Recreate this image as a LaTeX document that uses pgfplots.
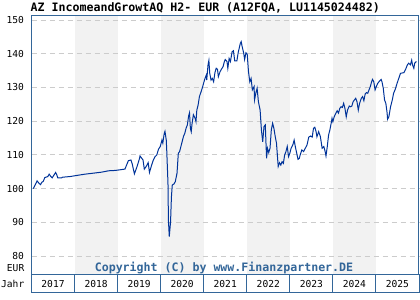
\documentclass[border=0pt]{standalone}
\usepackage{pgfplots}
\pgfplotsset{compat=1.18}
\usepackage{fontspec}
\setmainfont{DejaVu Sans Mono}
\definecolor{frame}{HTML}{336699}
\definecolor{series}{HTML}{003399}
\definecolor{band}{HTML}{F2F2F2}
\definecolor{gridc}{HTML}{CCCCCC}
\begin{document}
\begin{tikzpicture}
\path (0,0) rectangle (420bp,300bp);
\begin{axis}[
  set layers,
  at={(31.5bp,25bp)}, anchor=south west,
  width=387.5bp, height=259bp, scale only axis,
  xmin=2017, xmax=2026, ymin=74.4, ymax=151.2,
  axis line style={draw=frame, line width=1bp},
  ytick={80,90,...,150},
  ymajorgrids,
  grid style={gridc, line width=0.9bp, dash pattern=on 5bp off 4bp},
  xtick={2017.5,2018.5,2019.5,2020.5,2021.5,2022.5,2023.5,2024.5,2025.5},
  xticklabels={2017,2018,2019,2020,2021,2022,2023,2024,2025},
  major tick length=0,
  tick label style={font=\fontsize{9.6bp}{11bp}\selectfont},
  /pgf/number format/assume math mode=true,
  xticklabel style={anchor=center, yshift=-9bp},
  yticklabel style={anchor=east, xshift=-4bp},
  clip=false,
]
\begin{pgfonlayer}{axis background}
\fill[band] (axis cs:2018,74.4) rectangle (axis cs:2019,151.2);
\fill[band] (axis cs:2020,74.4) rectangle (axis cs:2021,151.2);
\fill[band] (axis cs:2022,74.4) rectangle (axis cs:2023,151.2);
\fill[band] (axis cs:2024,74.4) rectangle (axis cs:2025,151.2);
\end{pgfonlayer}
\addplot[series, line width=1bp, mark=none] coordinates {
(2017.04,100.0)(2017.08,101.0)(2017.13,102.3)(2017.18,101.5)(2017.21,101.2)(2017.24,101.9)
(2017.27,102.1)(2017.31,103.3)(2017.38,103.6)(2017.41,104.3)(2017.45,103.6)(2017.48,103.2)
(2017.52,104.0)(2017.56,104.8)(2017.59,104.0)(2017.61,103.2)(2017.70,103.2)(2017.72,103.4)
(2017.90,103.6)(2018.09,104.0)(2018.24,104.3)(2018.44,104.6)(2018.63,104.9)(2018.79,105.3)
(2018.94,105.4)(2019.06,105.6)(2019.17,105.8)(2019.25,108.3)(2019.31,108.5)(2019.34,107.3)
(2019.39,104.4)(2019.45,106.5)(2019.51,109.0)(2019.52,109.7)(2019.59,108.5)(2019.62,105.8)
(2019.66,106.5)(2019.71,107.7)(2019.74,104.8)(2019.79,107.0)(2019.83,108.5)(2019.87,109.5)
(2019.91,110.0)(2019.95,111.7)(2019.99,112.5)(2020.03,114.4)(2020.05,113.5)(2020.08,116.2)
(2020.10,117.0)(2020.13,114.4)(2020.14,111.7)(2020.17,101.6)(2020.18,90.7)(2020.20,85.8)
(2020.23,90.2)(2020.25,97.6)(2020.27,101.1)(2020.31,101.4)(2020.34,102.1)(2020.38,104.6)
(2020.41,110.5)(2020.44,111.0)(2020.47,112.5)(2020.50,114.0)(2020.53,115.5)(2020.56,116.4)
(2020.59,117.9)(2020.62,118.9)(2020.65,121.6)(2020.67,122.5)(2020.69,117.9)(2020.71,116.9)
(2020.73,119.4)(2020.76,121.9)(2020.80,120.9)(2020.82,119.9)(2020.84,123.3)(2020.87,124.8)
(2020.90,127.3)(2020.94,128.8)(2020.97,130.0)(2021.00,131.4)(2021.03,132.7)(2021.06,133.7)
(2021.07,132.2)(2021.10,136.7)(2021.12,138.0)(2021.14,134.2)(2021.17,132.2)(2021.20,132.7)
(2021.23,131.7)(2021.26,134.4)(2021.29,135.7)(2021.32,135.4)(2021.34,133.2)(2021.38,134.7)
(2021.41,135.4)(2021.45,136.2)(2021.48,137.7)(2021.50,138.3)(2021.54,137.7)(2021.56,135.7)
(2021.59,138.6)(2021.62,137.7)(2021.66,140.6)(2021.69,140.9)(2021.72,137.9)(2021.77,137.9)
(2021.80,140.3)(2021.85,143.1)(2021.87,143.6)(2021.89,142.3)(2021.93,140.1)(2021.95,138.3)
(2021.98,140.3)(2022.01,139.9)(2022.04,134.7)(2022.07,131.7)(2022.10,132.7)(2022.13,129.3)
(2022.17,130.3)(2022.18,126.3)(2022.21,128.3)(2022.24,129.8)(2022.27,125.8)(2022.31,123.3)
(2022.34,117.4)(2022.37,113.9)(2022.40,118.4)(2022.43,118.9)(2022.46,109.0)(2022.48,112.0)
(2022.51,110.7)(2022.54,112.0)(2022.57,117.4)(2022.60,119.4)(2022.63,117.9)(2022.66,115.5)
(2022.69,113.5)(2022.73,106.6)(2022.76,107.7)(2022.79,107.0)(2022.82,108.0)(2022.85,107.5)
(2022.88,110.0)(2022.91,111.0)(2022.94,112.5)(2022.97,109.5)(2023.00,110.5)(2023.03,112.0)
(2023.07,113.0)(2023.10,114.4)(2023.13,112.3)(2023.16,110.5)(2023.19,108.7)(2023.22,109.0)
(2023.24,110.0)(2023.28,111.5)(2023.32,111.0)(2023.36,112.0)(2023.40,113.0)(2023.44,115.3)
(2023.48,115.6)(2023.52,115.3)(2023.55,117.9)(2023.58,118.2)(2023.61,116.9)(2023.63,115.4)
(2023.67,116.9)(2023.71,115.4)(2023.75,112.0)(2023.79,112.5)(2023.82,111.0)(2023.84,109.7)
(2023.87,112.5)(2023.90,115.9)(2023.93,117.4)(2023.96,119.4)(2023.98,120.9)(2024.00,119.9)
(2024.03,121.3)(2024.07,122.4)(2024.10,123.1)(2024.13,122.4)(2024.16,123.8)(2024.19,124.3)
(2024.22,124.1)(2024.25,125.3)(2024.28,123.8)(2024.31,121.3)(2024.34,123.3)(2024.38,124.5)
(2024.41,124.3)(2024.44,124.5)(2024.47,125.8)(2024.50,126.3)(2024.53,126.8)(2024.56,125.8)
(2024.59,123.3)(2024.62,125.3)(2024.66,126.8)(2024.69,127.3)(2024.72,126.1)(2024.75,128.1)
(2024.78,128.5)(2024.81,128.3)(2024.84,129.3)(2024.87,130.3)(2024.90,131.7)(2024.92,132.4)
(2024.95,131.7)(2024.98,129.3)(2025.01,130.3)(2025.04,131.2)(2025.07,131.7)(2025.12,132.4)
(2025.14,131.7)(2025.17,129.8)(2025.20,126.3)(2025.23,125.3)(2025.26,122.4)(2025.27,120.6)
(2025.30,121.3)(2025.34,124.3)(2025.38,126.3)(2025.41,128.3)(2025.45,129.5)(2025.49,131.2)
(2025.53,132.7)(2025.57,134.2)(2025.65,134.4)(2025.69,135.4)(2025.73,136.7)(2025.76,137.2)
(2025.80,136.7)(2025.83,138.1)(2025.85,136.7)(2025.88,135.7)(2025.90,137.2)(2025.94,137.7)
};
\end{axis}
% year band below the plot
\draw[frame, line width=1bp] (31.5bp,7bp) rectangle (419bp,25bp);
\foreach \k in {1,...,8} {
  \draw[frame, line width=1bp] ({31.5bp+\k*43.056bp},7bp) -- ({31.5bp+\k*43.056bp},25bp);
}
\node[anchor=east, inner sep=0pt, font=\fontsize{9.6bp}{11bp}\selectfont] at (24.5bp,16bp) {Jahr};
\node[anchor=east, inner sep=0pt, font=\fontsize{9.6bp}{11bp}\selectfont] at (24.5bp,32bp) {EUR};
\node[anchor=center, inner sep=0pt, text=frame, font=\bfseries\fontsize{11.6bp}{13bp}\selectfont] at (224bp,32bp) {Copyright (C) by www.Finanzpartner.DE};
\node[anchor=west, inner sep=0pt, font=\bfseries\fontsize{11.6bp}{13bp}\selectfont] at (30.5bp,292bp) {AZ IncomeandGrowtAQ H2- EUR (A12FQA, LU1145024482)};
\end{tikzpicture}
\end{document}
